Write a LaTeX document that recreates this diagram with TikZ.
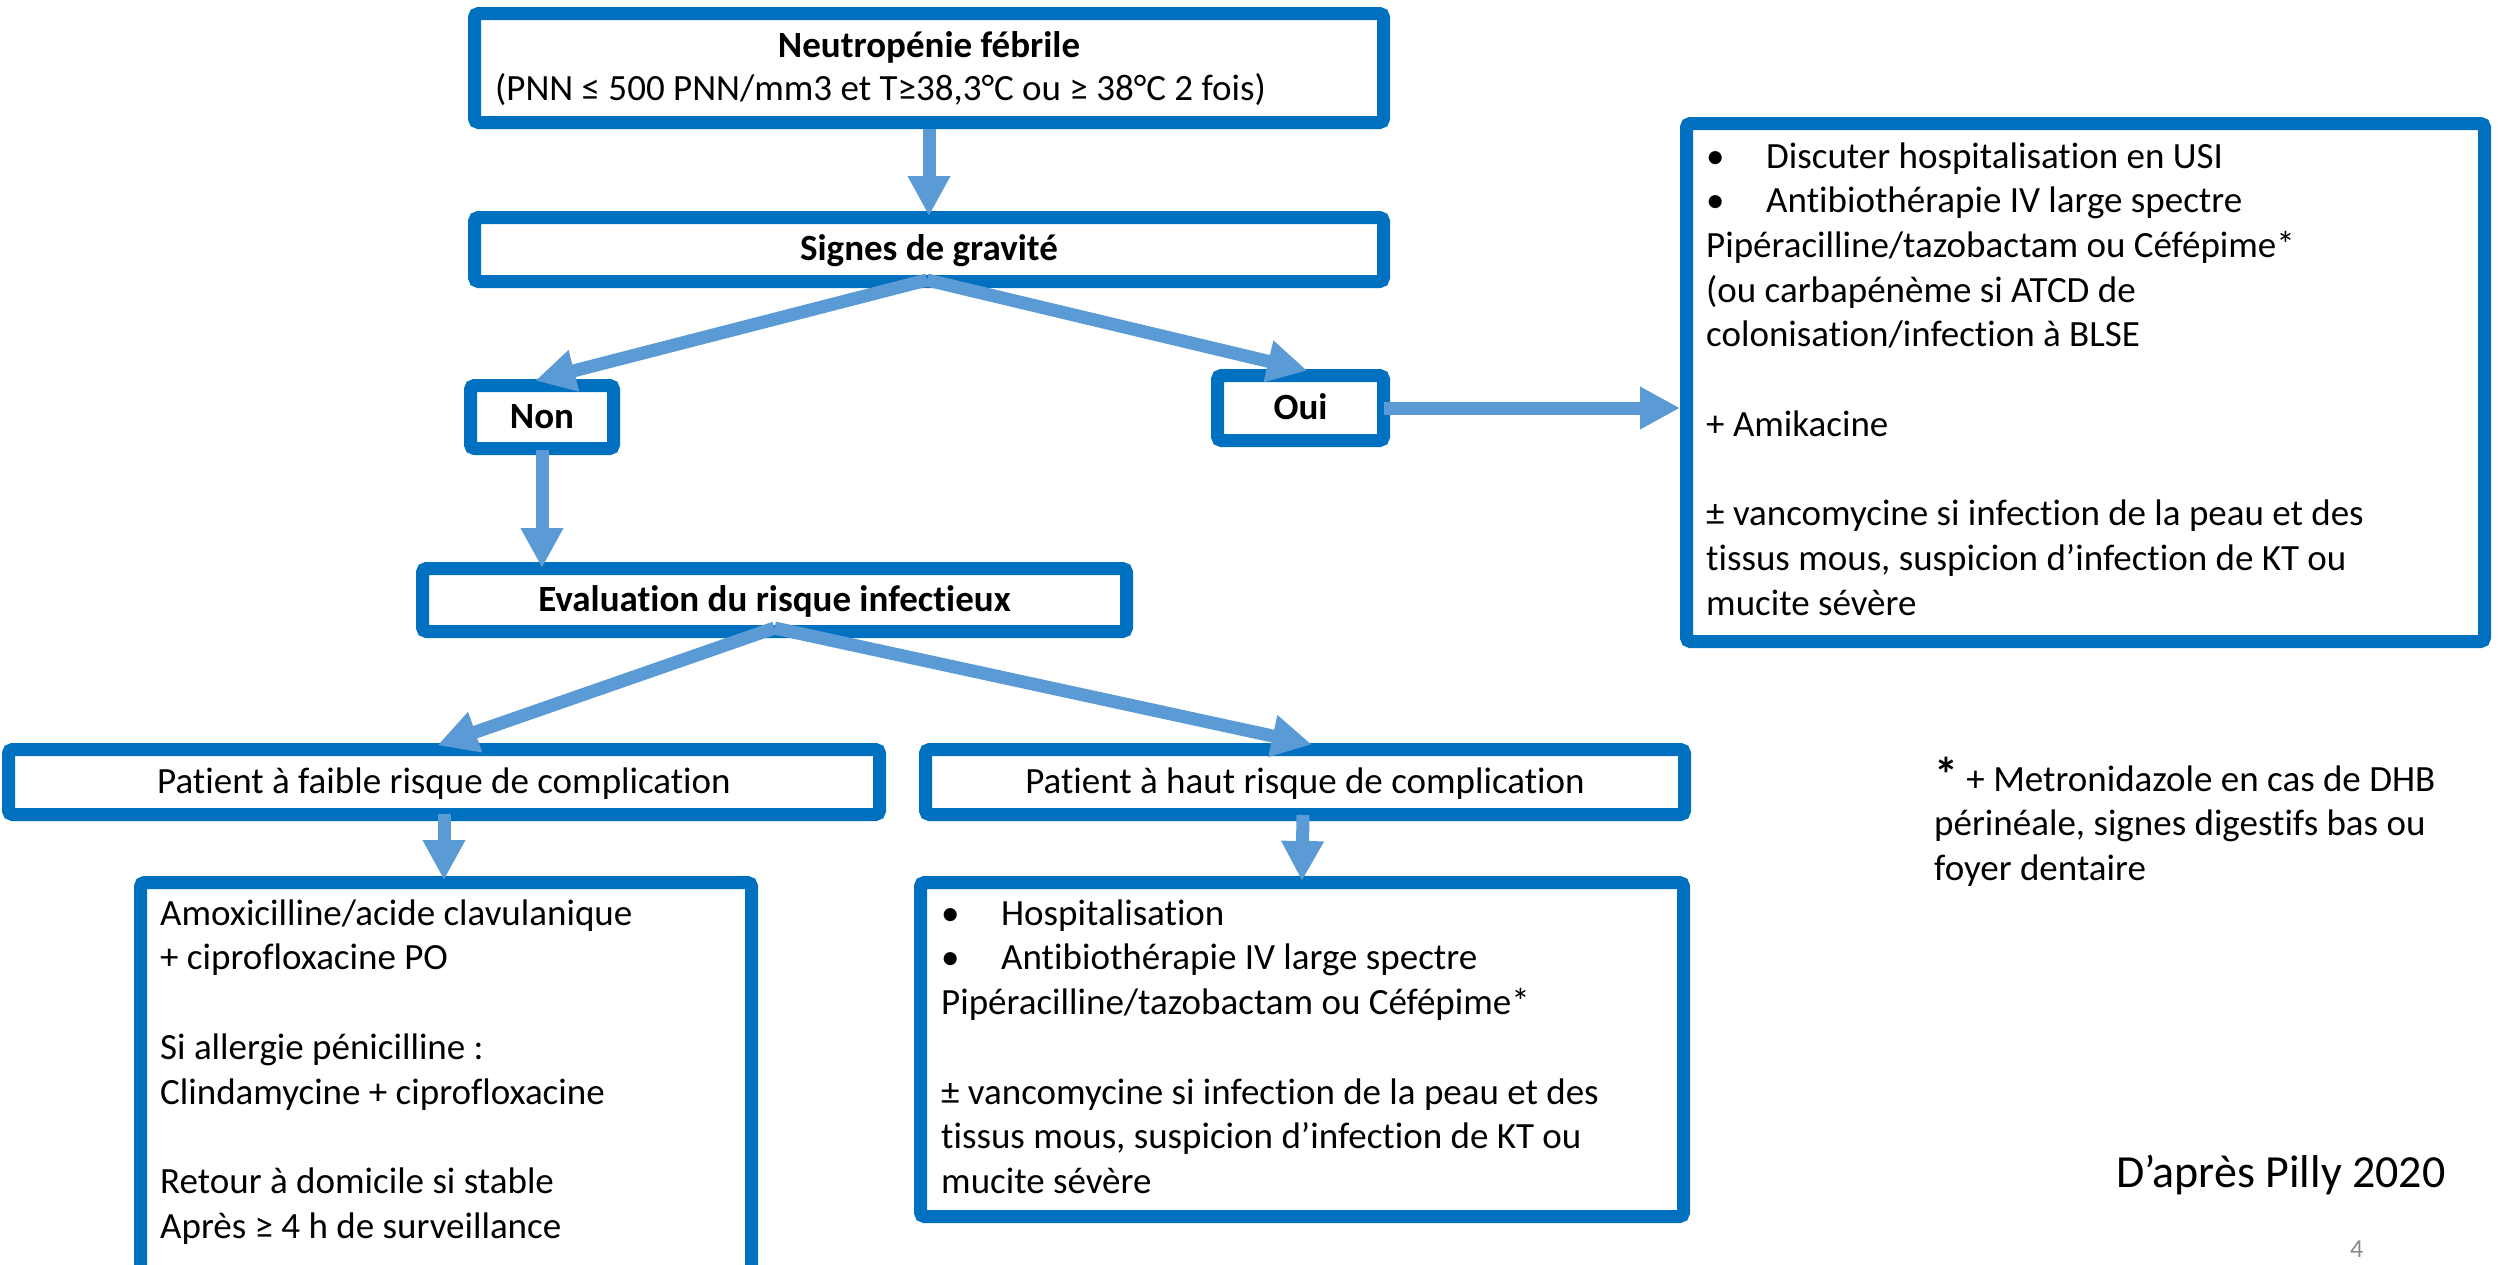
\documentclass[tikz,border=0pt]{standalone}
\usepackage{fontspec}
\setmainfont{Carlito}[Ligatures=NoCommon,Contextuals=NoAlternate]
\usetikzlibrary{arrows.meta,calc}
\definecolor{boxblue}{HTML}{0070C0}
\definecolor{arrowblue}{HTML}{5B9BD5}
\definecolor{numgrey}{HTML}{898989}
\newcommand{\bodyfont}{\fontsize{37}{44.7}\selectfont}
\begin{document}
\begin{tikzpicture}[x=1pt,y=-1pt,
  box/.style={draw=boxblue, line width=13pt, rounded corners=4pt, fill=white, inner sep=0pt,
    font=\bodyfont, text height=27pt, text depth=5pt, align=center},
  boldtxt/.style={font=\bodyfont\bfseries},
  arr/.style={draw=arrowblue, line width=13pt, -{Triangle[length=40pt,width=40pt]}},
  txt/.style={font=\bodyfont, align=left, inner sep=0pt, anchor=north west},
  linetxt/.style={font=\bodyfont, inner sep=0pt}]
\useasboundingbox (0,0) rectangle (2503,1264);

% boxes
\node[box, minimum width=909pt, minimum height=109pt] (neut) at (929,68) {};
\node[box, boldtxt, minimum width=909pt, minimum height=64pt] (signes) at (929,249.5) {Signes de gravité};
\node[box, boldtxt, minimum width=143pt, minimum height=63pt] (non) at (542,417) {Non};
\node[box, boldtxt, minimum width=166pt, minimum height=65pt] (oui) at (1300.5,408) {Oui};
\node[box, minimum width=798pt, minimum height=518pt] (rbox) at (2085.5,382.5) {};
\node[box, boldtxt, minimum width=704pt, minimum height=63pt] (eval) at (774.5,600) {Evaluation du risque infectieux};
\node[box, minimum width=871pt, minimum height=65pt] (faible) at (444,782) {Patient à faible risque de complication};
\node[box, minimum width=759pt, minimum height=65pt] (haut) at (1305,782) {Patient à haut risque de complication};
\node[box, minimum width=611pt, minimum height=401pt] (amox) at (446,1083) {};
\node[box, minimum width=763pt, minimum height=334pt] (hosp) at (1302,1049.5) {};

% texts
\node[boldtxt, inner sep=0pt, anchor=base] (neutT) at (929,57) {Neutropénie fébrile};
\node[linetxt, anchor=base west] (neutS) at (495,100) {(PNN ≤ 500 PNN/mm3 et T≥38,3°C ou ≥ 38°C 2 fois)};

\node[txt] (rtext) at (1706,136.7) {\strut\makebox[60pt][l]{•}Discuter hospitalisation en USI\\
\makebox[60pt][l]{•}Antibiothérapie IV large spectre\\
Pipéracilline/tazobactam ou Céfépime*\\
(ou carbapénème si ATCD de\\
colonisation/infection à BLSE\\[44.7pt]
+ Amikacine\\[44.7pt]
± vancomycine si infection de la peau et des\\
tissus mous, suspicion d’infection de KT ou\\
mucite sévère};

\node[txt] (amoxT) at (160,893.7) {\strut Amoxicilline/acide clavulanique\\
+ ciprofloxacine PO\\[44.7pt]
Si allergie pénicilline :\\
Clindamycine + ciprofloxacine\\[44.7pt]
Retour à domicile si stable\\
Après ≥ 4 h de surveillance};

\node[txt] (hospT) at (941,893.7) {\strut\makebox[60pt][l]{•}Hospitalisation\\
\makebox[60pt][l]{•}Antibiothérapie IV large spectre\\
Pipéracilline/tazobactam ou Céfépime*\\[44.7pt]
± vancomycine si infection de la peau et des\\
tissus mous, suspicion d’infection de KT ou\\
mucite sévère};

\node[txt] (note) at (1934,759.7) {\strut\smash{\fontsize{48}{48}\selectfont\bfseries *} + Metronidazole en cas de DHB\\
périnéale, signes digestifs bas ou\\
foyer dentaire};

\node[font=\fontsize{46}{55}\selectfont, inner sep=0pt, anchor=base west] (src) at (2116,1187) {D’après Pilly 2020};
\node[font=\fontsize{26}{31}\selectfont, text=numgrey, inner sep=0pt, anchor=base west] (pg) at (2350,1257) {4};

% arrows
\coordinate (sg) at ($(signes.south)+(-2,-8)$);
\coordinate (ev) at ($(eval.south)+(0,-10)$);
\draw[arr, shorten >=-5pt] (neut.south) -- (signes.north);
\draw[arr, shorten >=-7pt] (sg) -- (non.north);
\draw[arr, shorten >=-7pt] (sg) -- (oui.north);
\draw[arr] ([xshift=-6pt]oui.east) -- (oui.east -| rbox.west);
\draw[arr, shorten >=-6pt] ([yshift=5pt]non.south) -- (non.south |- eval.north);
\draw[arr, shorten >=-7pt] (ev) -- (faible.north);
\draw[arr, shorten >=-7pt] (ev) -- (haut.north);
\draw[arr, shorten >=-4pt] ([yshift=7pt]faible.south) -- (faible.south |- amox.north);
\draw[arr, shorten >=-5pt] ([yshift=6pt,xshift=-2pt]haut.south) -- (hosp.north);
\end{tikzpicture}
\end{document}
